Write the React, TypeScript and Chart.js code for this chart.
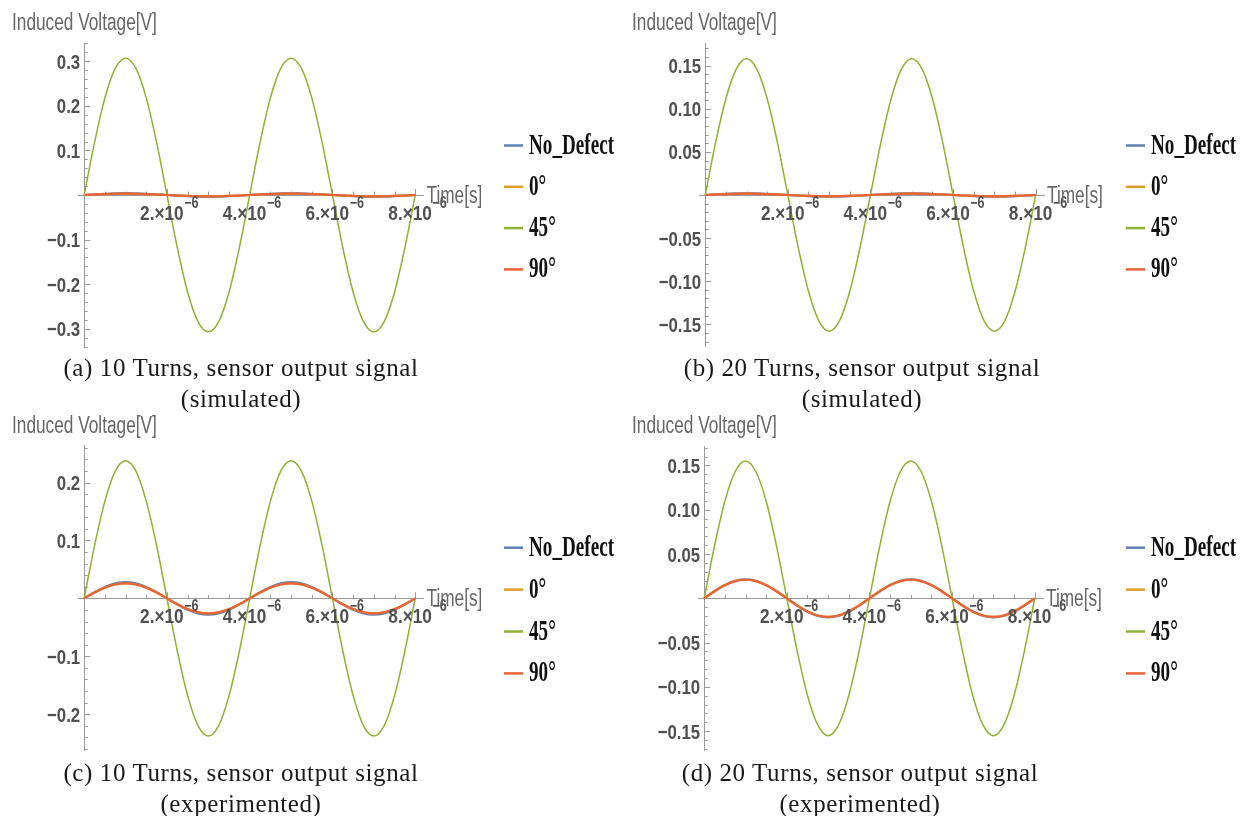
import React, { useEffect, useRef } from 'react';
import { Chart, registerables } from 'chart.js';

Chart.register(...registerables);

// ---------- DATA ----------
const timeS = [0, 2.5e-7, 5e-7, 7.5e-7, 1e-6, 1.25e-6, 1.5e-6, 1.75e-6, 2e-6, 2.25e-6, 2.5e-6, 2.75e-6, 3e-6, 3.25e-6, 3.5e-6, 3.75e-6, 4e-6, 4.25e-6, 4.5e-6, 4.75e-6, 5e-6, 5.25e-6, 5.5e-6, 5.75e-6, 6e-6, 6.25e-6, 6.5e-6, 6.75e-6, 7e-6, 7.25e-6, 7.5e-6, 7.75e-6, 8e-6];

const seriesNames = ['No_Defect', '0°', '45°', '90°'];
const seriesColors = ['#5E81B5', '#E19C24', '#8FB032', '#EB6235'];

// (a) 10 turns simulated
const aNoDefect = [0, 0.0015, 0.0028, 0.0037, 0.004, 0.0037, 0.0028, 0.0015, 0, -0.0015, -0.0028, -0.0037, -0.004, -0.0037, -0.0028, -0.0015, 0, 0.0015, 0.0028, 0.0037, 0.004, 0.0037, 0.0028, 0.0015, 0, -0.0015, -0.0028, -0.0037, -0.004, -0.0037, -0.0028, -0.0015, 0];
const aDeg0 = [0, 0.0011, 0.0021, 0.0028, 0.003, 0.0028, 0.0021, 0.0011, 0, -0.0011, -0.0021, -0.0028, -0.003, -0.0028, -0.0021, -0.0011, 0, 0.0011, 0.0021, 0.0028, 0.003, 0.0028, 0.0021, 0.0011, 0, -0.0011, -0.0021, -0.0028, -0.003, -0.0028, -0.0021, -0.0011, 0];
const aDeg45 = [0, 0.118, 0.218, 0.284, 0.307, 0.284, 0.218, 0.118, 0, -0.118, -0.218, -0.284, -0.307, -0.284, -0.218, -0.118, 0, 0.118, 0.218, 0.284, 0.307, 0.284, 0.218, 0.118, 0, -0.118, -0.218, -0.284, -0.307, -0.284, -0.218, -0.118, 0];
const aDeg90 = [0, 0.0011, 0.0021, 0.0028, 0.003, 0.0028, 0.0021, 0.0011, 0, -0.0011, -0.0021, -0.0028, -0.003, -0.0028, -0.0021, -0.0011, 0, 0.0011, 0.0021, 0.0028, 0.003, 0.0028, 0.0021, 0.0011, 0, -0.0011, -0.0021, -0.0028, -0.003, -0.0028, -0.0021, -0.0011, 0];

// (b) 20 turns simulated
const bNoDefect = [0, 0.0008, 0.0014, 0.0018, 0.002, 0.0018, 0.0014, 0.0008, 0, -0.0008, -0.0014, -0.0018, -0.002, -0.0018, -0.0014, -0.0008, 0, 0.0008, 0.0014, 0.0018, 0.002, 0.0018, 0.0014, 0.0008, 0, -0.0008, -0.0014, -0.0018, -0.002, -0.0018, -0.0014, -0.0008, 0];
const bDeg0 = [0, 0.0006, 0.0011, 0.0014, 0.0015, 0.0014, 0.0011, 0.0006, 0, -0.0006, -0.0011, -0.0014, -0.0015, -0.0014, -0.0011, -0.0006, 0, 0.0006, 0.0011, 0.0014, 0.0015, 0.0014, 0.0011, 0.0006, 0, -0.0006, -0.0011, -0.0014, -0.0015, -0.0014, -0.0011, -0.0006, 0];
const bDeg45 = [0, 0.0605, 0.1117, 0.146, 0.158, 0.146, 0.1117, 0.0605, 0, -0.0605, -0.1117, -0.146, -0.158, -0.146, -0.1117, -0.0605, 0, 0.0605, 0.1117, 0.146, 0.158, 0.146, 0.1117, 0.0605, 0, -0.0605, -0.1117, -0.146, -0.158, -0.146, -0.1117, -0.0605, 0];
const bDeg90 = [0, 0.0006, 0.0011, 0.0014, 0.0015, 0.0014, 0.0011, 0.0006, 0, -0.0006, -0.0011, -0.0014, -0.0015, -0.0014, -0.0011, -0.0006, 0, 0.0006, 0.0011, 0.0014, 0.0015, 0.0014, 0.0011, 0.0006, 0, -0.0006, -0.0011, -0.0014, -0.0015, -0.0014, -0.0011, -0.0006, 0];

// (c) 10 turns experimented
const cNoDefect = [0, 0.0107, 0.0198, 0.0259, 0.028, 0.0259, 0.0198, 0.0107, 0, -0.0107, -0.0198, -0.0259, -0.028, -0.0259, -0.0198, -0.0107, 0, 0.0107, 0.0198, 0.0259, 0.028, 0.0259, 0.0198, 0.0107, 0, -0.0107, -0.0198, -0.0259, -0.028, -0.0259, -0.0198, -0.0107, 0];
const cDeg0 = [0, 0.01, 0.0184, 0.024, 0.026, 0.024, 0.0184, 0.01, 0, -0.01, -0.0184, -0.024, -0.026, -0.024, -0.0184, -0.01, 0, 0.01, 0.0184, 0.024, 0.026, 0.024, 0.0184, 0.01, 0, -0.01, -0.0184, -0.024, -0.026, -0.024, -0.0184, -0.01, 0];
const cDeg45 = [0, 0.091, 0.168, 0.22, 0.238, 0.22, 0.168, 0.091, 0, -0.091, -0.168, -0.22, -0.238, -0.22, -0.168, -0.091, 0, 0.091, 0.168, 0.22, 0.238, 0.22, 0.168, 0.091, 0, -0.091, -0.168, -0.22, -0.238, -0.22, -0.168, -0.091, 0];
const cDeg90 = [0, 0.01, 0.0184, 0.024, 0.026, 0.024, 0.0184, 0.01, 0, -0.01, -0.0184, -0.024, -0.026, -0.024, -0.0184, -0.01, 0, 0.01, 0.0184, 0.024, 0.026, 0.024, 0.0184, 0.01, 0, -0.01, -0.0184, -0.024, -0.026, -0.024, -0.0184, -0.01, 0];

// (d) 20 turns experimented
const dNoDefect = [0, 0.0082, 0.0152, 0.0199, 0.0215, 0.0199, 0.0152, 0.0082, 0, -0.0082, -0.0152, -0.0199, -0.0215, -0.0199, -0.0152, -0.0082, 0, 0.0082, 0.0152, 0.0199, 0.0215, 0.0199, 0.0152, 0.0082, 0, -0.0082, -0.0152, -0.0199, -0.0215, -0.0199, -0.0152, -0.0082, 0];
const dDeg0 = [0, 0.008, 0.0148, 0.0194, 0.021, 0.0194, 0.0148, 0.008, 0, -0.008, -0.0148, -0.0194, -0.021, -0.0194, -0.0148, -0.008, 0, 0.008, 0.0148, 0.0194, 0.021, 0.0194, 0.0148, 0.008, 0, -0.008, -0.0148, -0.0194, -0.021, -0.0194, -0.0148, -0.008, 0];
const dDeg45 = [0, 0.0593, 0.1096, 0.1432, 0.155, 0.1432, 0.1096, 0.0593, 0, -0.0593, -0.1096, -0.1432, -0.155, -0.1432, -0.1096, -0.0593, 0, 0.0593, 0.1096, 0.1432, 0.155, 0.1432, 0.1096, 0.0593, 0, -0.0593, -0.1096, -0.1432, -0.155, -0.1432, -0.1096, -0.0593, 0];
const dDeg90 = [0, 0.008, 0.0148, 0.0194, 0.021, 0.0194, 0.0148, 0.008, 0, -0.008, -0.0148, -0.0194, -0.021, -0.0194, -0.0148, -0.008, 0, 0.008, 0.0148, 0.0194, 0.021, 0.0194, 0.0148, 0.008, 0, -0.008, -0.0148, -0.0194, -0.021, -0.0194, -0.0148, -0.008, 0];

// ---------- TICKS / LABELS ----------
const xMajor = [2e-6, 4e-6, 6e-6, 8e-6];
const xMantissa = ['2.', '4.', '6.', '8.'];
const xExponent = '−6';
const xMinor = [5e-7, 1e-6, 1.5e-6, 2.5e-6, 3e-6, 3.5e-6, 4.5e-6, 5e-6, 5.5e-6, 6.5e-6, 7e-6, 7.5e-6];

const yMajorA = [-0.3, -0.2, -0.1, 0.1, 0.2, 0.3];
const yLabelsA = ['−0.3', '−0.2', '−0.1', '0.1', '0.2', '0.3'];
const yMinorA = [-0.34, -0.32, -0.28, -0.26, -0.24, -0.22, -0.18, -0.16, -0.14, -0.12, -0.08, -0.06, -0.04, -0.02, 0.02, 0.04, 0.06, 0.08, 0.12, 0.14, 0.16, 0.18, 0.22, 0.24, 0.26, 0.28, 0.32, 0.34];

const yMajorB = [-0.15, -0.1, -0.05, 0.05, 0.1, 0.15];
const yLabelsB = ['−0.15', '−0.10', '−0.05', '0.05', '0.10', '0.15'];
const yMinorB = [-0.17, -0.16, -0.14, -0.13, -0.12, -0.11, -0.09, -0.08, -0.07, -0.06, -0.04, -0.03, -0.02, -0.01, 0.01, 0.02, 0.03, 0.04, 0.06, 0.07, 0.08, 0.09, 0.11, 0.12, 0.13, 0.14, 0.16, 0.17];

const yMajorC = [-0.2, -0.1, 0.1, 0.2];
const yLabelsC = ['−0.2', '−0.1', '0.1', '0.2'];
const yMinorC = [-0.26, -0.24, -0.22, -0.18, -0.16, -0.14, -0.12, -0.08, -0.06, -0.04, -0.02, 0.02, 0.04, 0.06, 0.08, 0.12, 0.14, 0.16, 0.18, 0.22, 0.24, 0.26];

const yAxisTitle = 'Induced Voltage[V]';
const xAxisTitle = 'Time[s]';

const captionsA = ['(a) 10 Turns, sensor output signal', '(simulated)'];
const captionsB = ['(b) 20 Turns, sensor output signal', '(simulated)'];
const captionsC = ['(c) 10 Turns, sensor output signal', '(experimented)'];
const captionsD = ['(d) 20 Turns, sensor output signal', '(experimented)'];

// ---------- STYLE ----------
const SANS = "'Liberation Sans', Arial, sans-serif";
const SERIF = "'Liberation Serif', 'Times New Roman', serif";
const NARROW = 0.8; // horizontal squeeze to mimic a condensed face

function squeezedText(ctx: any, text: string, x: number, y: number, font: string, align: string, sx: number) {
  ctx.save();
  ctx.translate(x, y);
  ctx.scale(sx, 1);
  ctx.font = font;
  ctx.textAlign = align;
  ctx.textBaseline = 'alphabetic';
  ctx.fillText(text, 0, 0);
  ctx.restore();
}

const mathPlugin = {
  id: 'mathStyle',
  beforeDatasetsDraw(chart: any, _args: any, opts: any) {
    const { ctx } = chart;
    const xs = chart.scales.x;
    const ys = chart.scales.y;
    const x0 = xs.getPixelForValue(0);
    const y0 = ys.getPixelForValue(0);
    ctx.save();
    ctx.strokeStyle = '#9a9a9a';
    ctx.lineWidth = 1;
    ctx.beginPath();
    for (const v of xMajor) {
      const px = Math.round(xs.getPixelForValue(v)) + 0.5;
      ctx.moveTo(px, y0); ctx.lineTo(px, y0 - 6);
    }
    for (const v of xMinor) {
      const px = Math.round(xs.getPixelForValue(v)) + 0.5;
      ctx.moveTo(px, y0); ctx.lineTo(px, y0 - 3.5);
    }
    for (const v of opts.yMajor) {
      const py = Math.round(ys.getPixelForValue(v)) + 0.5;
      ctx.moveTo(x0, py); ctx.lineTo(x0 + 6, py);
    }
    for (const v of opts.yMinor) {
      const py = Math.round(ys.getPixelForValue(v)) + 0.5;
      ctx.moveTo(x0, py); ctx.lineTo(x0 + 3.5, py);
    }
    ctx.stroke();
    ctx.restore();
  },
  afterDraw(chart: any, _args: any, opts: any) {
    const { ctx, chartArea } = chart;
    const xs = chart.scales.x;
    const ys = chart.scales.y;
    const x0 = xs.getPixelForValue(0);
    const y0 = ys.getPixelForValue(0);
    ctx.save();
    ctx.fillStyle = '#505050';
    // y tick labels
    const yFont = `bold 21px ${SANS}`;
    for (let i = 0; i < opts.yMajor.length; i++) {
      const py = ys.getPixelForValue(opts.yMajor[i]);
      squeezedText(ctx, opts.yLabels[i], x0 - 4, py + 7.5, yFont, 'right', NARROW);
    }
    // x tick labels with superscript exponent
    const mainFont = `bold 21px ${SANS}`;
    const expFont = `bold 16px ${SANS}`;
    for (let i = 0; i < xMajor.length; i++) {
      const px = xs.getPixelForValue(xMajor[i]);
      const main = xMantissa[i] + '×10';
      ctx.font = mainFont;
      const wMain = ctx.measureText(main).width * 0.82;
      ctx.font = expFont;
      const wExp = ctx.measureText(xExponent).width * 0.78;
      const left = px - (wMain + wExp) / 2 + 2;
      squeezedText(ctx, main, left, y0 + 25, mainFont, 'left', 0.82);
      squeezedText(ctx, xExponent, left + wMain + 0.5, y0 + 13, expFont, 'left', 0.78);
    }
    // axis titles
    ctx.fillStyle = '#666';
    const tFont = `23px ${SANS}`;
    squeezedText(ctx, yAxisTitle, opts.titleX, opts.titleY, tFont, 'left', 0.75);
    squeezedText(ctx, xAxisTitle, chartArea.right + 3, y0 + 8, tFont, 'left', 0.75);
    // legend
    const ds = chart.data.datasets;
    for (let i = 0; i < ds.length; i++) {
      const ly = opts.legendY + i * opts.legendGap;
      ctx.strokeStyle = ds[i].borderColor;
      ctx.lineWidth = 2.5;
      ctx.beginPath();
      ctx.moveTo(opts.legendX, ly);
      ctx.lineTo(opts.legendX + 19, ly);
      ctx.stroke();
      ctx.fillStyle = '#111';
      squeezedText(ctx, ds[i].label, opts.legendX + 25, ly + 8, `bold 29px ${SERIF}`, 'left', 0.66);
    }
    ctx.restore();
  },
};

type PanelCfg = {
  left: number; top: number; w: number; h: number;
  chartLeft: number; chartRight: number; chartTop: number; chartBottom: number;
  yMin: number; yMax: number;
  series: number[][];
  yMajor: number[]; yLabels: string[]; yMinor: number[];
  titleX: number; titleY: number;
  legendX: number; legendY: number; legendGap: number;
  captions: string[]; captionCenter: number; captionTop: number;
};

const panels: PanelCfg[] = [
  { left: 0, top: 0, w: 620, h: 362, chartLeft: 78, chartRight: 423.5, chartTop: 43, chartBottom: 347, yMin: -0.341, yMax: 0.341,
    series: [aNoDefect, aDeg0, aDeg45, aDeg90], yMajor: yMajorA, yLabels: yLabelsA, yMinor: yMinorA,
    titleX: 12, titleY: 30, legendX: 504, legendY: 145.5, legendGap: 41.3, captions: captionsA, captionCenter: 241, captionTop: 351.5 },
  { left: 620, top: 0, w: 626, h: 362, chartLeft: 79, chartRight: 424, chartTop: 43.3, chartBottom: 346.7, yMin: -0.176, yMax: 0.176,
    series: [bNoDefect, bDeg0, bDeg45, bDeg90], yMajor: yMajorB, yLabels: yLabelsB, yMinor: yMinorB,
    titleX: 12, titleY: 30, legendX: 506, legendY: 145.5, legendGap: 41.3, captions: captionsB, captionCenter: 862, captionTop: 351.5 },
  { left: 0, top: 405, w: 620, h: 362, chartLeft: 78, chartRight: 423.5, chartTop: 40, chartBottom: 345, yMin: -0.262, yMax: 0.265,
    series: [cNoDefect, cDeg0, cDeg45, cDeg90], yMajor: yMajorC, yLabels: yLabelsC, yMinor: yMinorC,
    titleX: 12, titleY: 28, legendX: 504, legendY: 142.7, legendGap: 41.9, captions: captionsC, captionCenter: 241, captionTop: 757 },
  { left: 619, top: 405, w: 627, h: 362, chartLeft: 79, chartRight: 424, chartTop: 41, chartBottom: 345.7, yMin: -0.172, yMax: 0.172,
    series: [dNoDefect, dDeg0, dDeg45, dDeg90], yMajor: yMajorB, yLabels: yLabelsB, yMinor: yMinorB,
    titleX: 13, titleY: 28, legendX: 507, legendY: 142.7, legendGap: 41.9, captions: captionsD, captionCenter: 860, captionTop: 757 },
];

function Panel({ p }: { p: PanelCfg }) {
  const ref = useRef<HTMLCanvasElement>(null);
  useEffect(() => {
    const canvas = ref.current;
    if (!canvas) return;
    const chart = new Chart(canvas, {
      type: 'line',
      data: {
        datasets: p.series.map((vals, i) => ({
          label: seriesNames[i],
          data: timeS.map((t, k) => ({ x: t, y: vals[k] })),
          borderColor: seriesColors[i],
          backgroundColor: seriesColors[i],
          borderWidth: i === 2 ? 1.5 : 2.2,
          pointRadius: 0,
          tension: 0.4,
          cubicInterpolationMode: 'monotone',
          fill: false,
          order: 4 - i,
        })),
      },
      options: {
        responsive: false,
        animation: false,
        devicePixelRatio: 1,
        events: [],
        layout: { padding: { left: p.chartLeft, right: p.w - p.chartRight, top: p.chartTop, bottom: p.h - p.chartBottom } },
        plugins: {
          legend: { display: false },
          tooltip: { enabled: false },
          mathStyle: {
            yMajor: p.yMajor, yLabels: p.yLabels, yMinor: p.yMinor, titleX: p.titleX, titleY: p.titleY,
            legendX: p.legendX, legendY: p.legendY, legendGap: p.legendGap,
          },
        } as any,
        scales: {
          x: {
            type: 'linear',
            min: -0.15e-6,
            max: 8.2e-6,
            position: { y: 0 } as any,
            grid: { display: true, drawOnChartArea: false, drawTicks: false },
            border: { display: true, color: '#999', width: 1 },
            ticks: { display: false },
          },
          y: {
            type: 'linear',
            min: p.yMin,
            max: p.yMax,
            position: { x: 0 } as any,
            grid: { display: true, drawOnChartArea: false, drawTicks: false },
            border: { display: true, color: '#999', width: 1 },
            afterBuildTicks: (scale: any) => {
              scale.ticks = p.yMajor.map((v) => ({ value: v }));
            },
            ticks: { display: false },
          },
        },
      },
      plugins: [mathPlugin],
    } as any);
    return () => chart.destroy();
  }, [p]);
  return (
    <canvas ref={ref} width={p.w} height={p.h}
      style={{ position: 'absolute', left: p.left, top: p.top, width: p.w, height: p.h }} />
  );
}

export default function App() {
  return (
    <div style={{ position: 'absolute', left: 0, top: 0, width: 1246, height: 816, background: '#fff', overflow: 'hidden' }}>
      {panels.map((p, i) => (
        <React.Fragment key={i}>
          <Panel p={p} />
          <div style={{
            position: 'absolute', left: p.captionCenter - 260, top: p.captionTop, width: 520,
            textAlign: 'center', fontFamily: SERIF, fontSize: 25, lineHeight: '31px',
            letterSpacing: '0.6px', color: '#1a1a1a', whiteSpace: 'nowrap',
          }}>
            {p.captions.map((c, j) => <div key={j}>{c}</div>)}
          </div>
        </React.Fragment>
      ))}
    </div>
  );
}
